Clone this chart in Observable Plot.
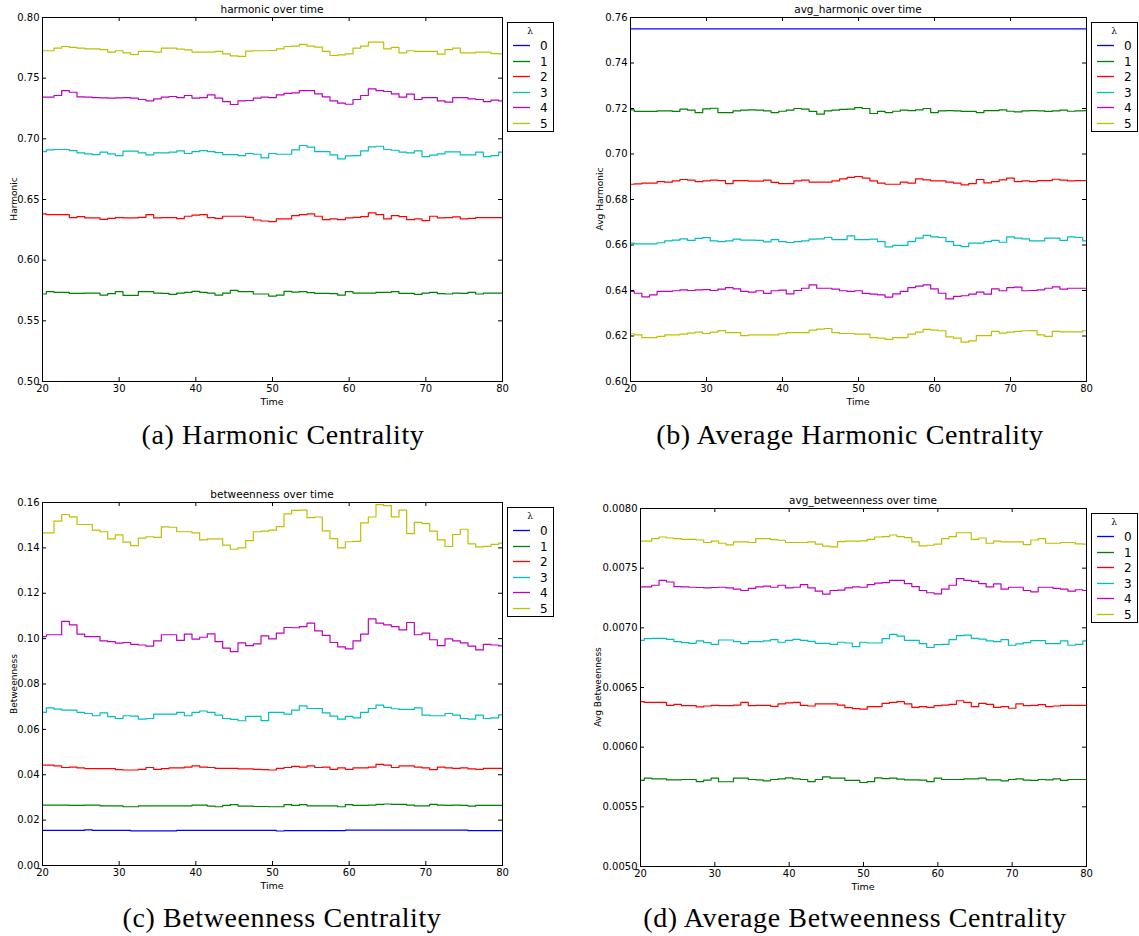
<!DOCTYPE html>
<html>
<head>
<meta charset="utf-8">
<script src="https://cdn.jsdelivr.net/npm/d3@7"></script>
<script src="https://cdn.jsdelivr.net/npm/@observablehq/plot@0.6"></script>
<style>
  html, body { margin: 0; padding: 0; background: #fff; }
  #fig { position: relative; width: 1139px; height: 936px; overflow: hidden; font-family: "DejaVu Sans", sans-serif; color: #000; }
  .abs { position: absolute; white-space: nowrap; }
  .c { transform: translate(-50%, -50%); }
  .ttl { font-size: 10.5px; }
  .xl { font-size: 9.5px; }
  .yl { font-size: 9px; transform: translate(-50%, -50%) rotate(-90deg); }
  .cap { font-family: "Liberation Serif", serif; font-size: 28px; letter-spacing: 0.6px; }
  .leg { position: absolute; }
</style>
</head>
<body>
<div id="fig"></div>
<script>
// ---------- data ----------
const times = d3.range(20, 81);           // time steps 20..80
const lambdas = ["0", "1", "2", "3", "4", "5"];
const colors = ["#0000ff", "#008000", "#ff0000", "#00bfbf", "#bf00bf", "#bfbf00"];
const xTicks = [20, 30, 40, 50, 60, 70, 80];

// (a) harmonic
const harm0 = [0.5,0.5,0.5,0.5,0.5,0.5,0.5,0.5,0.5,0.5,0.5,0.5,0.5,0.5,0.5,0.5,0.5,0.5,0.5,0.5,0.5,0.5,0.5,0.5,0.5,0.5,0.5,0.5,0.5,0.5,0.5,0.5,0.5,0.5,0.5,0.5,0.5,0.5,0.5,0.5,0.5,0.5,0.5,0.5,0.5,0.5,0.5,0.5,0.5,0.5,0.5,0.5,0.5,0.5,0.5,0.5,0.5,0.5,0.5,0.5,0.5];
const harm1 = [0.5721,0.5740,0.5735,0.5735,0.5726,0.5726,0.5729,0.5729,0.5712,0.5724,
0.5740,0.5710,0.5710,0.5740,0.5740,0.5729,0.5726,0.5718,0.5729,0.5735,
0.5743,0.5735,0.5729,0.5712,0.5729,0.5751,0.5740,0.5740,0.5721,0.5721,
0.5704,0.5712,0.5743,0.5737,0.5740,0.5732,0.5726,0.5726,0.5724,0.5712,
0.5740,0.5729,0.5729,0.5729,0.5735,0.5735,0.5740,0.5726,0.5726,0.5718,
0.5729,0.5735,0.5724,0.5721,0.5729,0.5726,0.5735,0.5721,0.5729,0.5729,
0.5729];
const harm2 = [0.6381,0.6375,0.6375,0.6375,0.6351,0.6359,0.6348,0.6348,0.6337,0.6345,
0.6351,0.6348,0.6348,0.6353,0.6375,0.6348,0.6351,0.6351,0.6342,0.6362,
0.6372,0.6375,0.6351,0.6345,0.6362,0.6362,0.6362,0.6353,0.6331,0.6323,
0.6318,0.6340,0.6340,0.6367,0.6375,0.6381,0.6362,0.6334,0.6340,0.6334,
0.6348,0.6353,0.6359,0.6389,0.6375,0.6340,0.6367,0.6359,0.6334,0.6340,
0.6326,0.6362,0.6348,0.6351,0.6356,0.6340,0.6345,0.6351,0.6351,0.6351,
0.6351];
const harm3 = [0.6895,0.6909,0.6912,0.6912,0.6903,0.6884,0.6876,0.6870,0.6890,0.6876,
0.6862,0.6898,0.6898,0.6884,0.6867,0.6884,0.6884,0.6890,0.6901,0.6879,
0.6895,0.6903,0.6895,0.6887,0.6870,0.6870,0.6862,0.6879,0.6873,0.6843,
0.6879,0.6873,0.6873,0.6909,0.6945,0.6931,0.6895,0.6895,0.6867,0.6835,
0.6859,0.6862,0.6901,0.6934,0.6939,0.6912,0.6906,0.6890,0.6884,0.6901,
0.6854,0.6865,0.6876,0.6892,0.6892,0.6867,0.6867,0.6890,0.6854,0.6862,
0.6890];
const harm4 = [0.7343,0.7343,0.7357,0.7398,0.7384,0.7346,0.7343,0.7340,0.7338,0.7335,
0.7338,0.7340,0.7335,0.7324,0.7313,0.7330,0.7343,0.7349,0.7340,0.7357,
0.7335,0.7340,0.7362,0.7335,0.7307,0.7283,0.7313,0.7316,0.7335,0.7343,
0.7340,0.7362,0.7374,0.7379,0.7398,0.7398,0.7371,0.7346,0.7313,0.7294,
0.7285,0.7324,0.7357,0.7412,0.7398,0.7390,0.7371,0.7343,0.7368,0.7324,
0.7340,0.7340,0.7313,0.7302,0.7340,0.7340,0.7330,0.7324,0.7307,0.7319,
0.7313];
const harm5 = [0.7726,0.7726,0.7747,0.7761,0.7753,0.7747,0.7742,0.7742,0.7736,0.7715,
0.7726,0.7709,0.7695,0.7720,0.7720,0.7715,0.7747,0.7747,0.7739,0.7734,
0.7715,0.7715,0.7715,0.7720,0.7701,0.7684,0.7679,0.7723,0.7726,0.7726,
0.7728,0.7742,0.7761,0.7764,0.7778,0.7764,0.7756,0.7720,0.7687,0.7692,
0.7701,0.7747,0.7764,0.7797,0.7797,0.7742,0.7753,0.7709,0.7726,0.7720,
0.7720,0.7720,0.7698,0.7736,0.7747,0.7709,0.7709,0.7715,0.7715,0.7703,
0.7701];
const harmTicks = [0.50, 0.55, 0.60, 0.65, 0.70, 0.75, 0.80];

// (b) avg_harmonic
const avgH0 = [0.755,0.755,0.755,0.755,0.755,0.755,0.755,0.755,0.755,0.755,0.755,0.755,0.755,0.755,0.755,0.755,0.755,0.755,0.755,0.755,0.755,0.755,0.755,0.755,0.755,0.755,0.755,0.755,0.755,0.755,0.755,0.755,0.755,0.755,0.755,0.755,0.755,0.755,0.755,0.755,0.755,0.755,0.755,0.755,0.755,0.755,0.755,0.755,0.755,0.755,0.755,0.755,0.755,0.755,0.755,0.755,0.755,0.755,0.755,0.755,0.755];
const avgH1 = [0.7194,0.7187,0.7187,0.7187,0.7190,0.7190,0.7187,0.7197,0.7193,0.7182,
0.7198,0.7201,0.7182,0.7182,0.7190,0.7193,0.7194,0.7193,0.7190,0.7182,
0.7188,0.7193,0.7200,0.7197,0.7187,0.7175,0.7190,0.7193,0.7196,0.7197,
0.7204,0.7200,0.7178,0.7187,0.7182,0.7188,0.7193,0.7191,0.7194,0.7200,
0.7182,0.7190,0.7191,0.7190,0.7187,0.7187,0.7182,0.7191,0.7191,0.7194,
0.7188,0.7185,0.7190,0.7191,0.7190,0.7187,0.7190,0.7193,0.7188,0.7190,
0.7191];
const avgH2 = [0.6867,0.6869,0.6872,0.6872,0.6879,0.6876,0.6882,0.6888,0.6885,0.6879,
0.6882,0.6885,0.6883,0.6870,0.6883,0.6883,0.6881,0.6881,0.6885,0.6875,
0.6870,0.6870,0.6882,0.6885,0.6876,0.6876,0.6876,0.6882,0.6891,0.6897,
0.6901,0.6894,0.6882,0.6872,0.6867,0.6867,0.6876,0.6872,0.6891,0.6886,
0.6882,0.6882,0.6876,0.6872,0.6864,0.6870,0.6888,0.6873,0.6879,0.6886,
0.6894,0.6879,0.6882,0.6879,0.6883,0.6883,0.6889,0.6885,0.6882,0.6883,
0.6883];
const avgH3 = [0.6608,0.6605,0.6605,0.6605,0.6610,0.6618,0.6621,0.6627,0.6620,0.6629,
0.6632,0.6618,0.6615,0.6618,0.6626,0.6621,0.6621,0.6620,0.6614,0.6624,
0.6615,0.6611,0.6615,0.6618,0.6626,0.6627,0.6633,0.6624,0.6624,0.6640,
0.6624,0.6624,0.6626,0.6615,0.6592,0.6598,0.6598,0.6615,0.6630,0.6642,
0.6636,0.6633,0.6615,0.6598,0.6593,0.6608,0.6608,0.6615,0.6620,0.6612,
0.6636,0.6630,0.6627,0.6618,0.6618,0.6630,0.6630,0.6620,0.6636,0.6633,
0.6618];
const avgH4 = [0.6396,0.6388,0.6372,0.6381,0.6396,0.6396,0.6399,0.6403,0.6400,0.6403,
0.6404,0.6400,0.6406,0.6413,0.6407,0.6396,0.6393,0.6399,0.6387,0.6399,
0.6402,0.6385,0.6400,0.6410,0.6425,0.6410,0.6410,0.6406,0.6399,0.6396,
0.6399,0.6387,0.6384,0.6381,0.6371,0.6385,0.6396,0.6413,0.6419,0.6425,
0.6407,0.6388,0.6363,0.6374,0.6377,0.6384,0.6393,0.6384,0.6407,0.6399,
0.6413,0.6415,0.6399,0.6400,0.6403,0.6410,0.6416,0.6406,0.6410,0.6410,
0.6410];
const avgH5 = [0.6210,0.6205,0.6193,0.6193,0.6198,0.6205,0.6205,0.6208,0.6213,0.6217,
0.6211,0.6217,0.6224,0.6215,0.6215,0.6202,0.6205,0.6205,0.6205,0.6205,
0.6210,0.6215,0.6215,0.6215,0.6226,0.6230,0.6233,0.6215,0.6211,0.6211,
0.6208,0.6208,0.6193,0.6191,0.6185,0.6193,0.6193,0.6208,0.6217,0.6229,
0.6226,0.6223,0.6196,0.6191,0.6173,0.6179,0.6202,0.6202,0.6220,0.6213,
0.6217,0.6220,0.6223,0.6224,0.6205,0.6198,0.6220,0.6218,0.6218,0.6218,
0.6223];
const avgHTicks = [0.60, 0.62, 0.64, 0.66, 0.68, 0.70, 0.72, 0.74, 0.76];

// (c) betweenness
const betw0 = [0.0155,0.0155,0.0155,0.0155,0.0155,0.0155,0.0157,0.0155,0.0155,0.0155,
0.0155,0.0155,0.0153,0.0153,0.0153,0.0153,0.0153,0.0153,0.0155,0.0155,
0.0155,0.0155,0.0155,0.0155,0.0155,0.0155,0.0155,0.0155,0.0155,0.0155,
0.0155,0.0152,0.0154,0.0154,0.0154,0.0154,0.0154,0.0154,0.0154,0.0154,
0.0156,0.0156,0.0156,0.0156,0.0156,0.0156,0.0156,0.0156,0.0156,0.0156,
0.0156,0.0156,0.0156,0.0156,0.0156,0.0156,0.0154,0.0154,0.0154,0.0154,
0.0154];
const betw1 = [0.0266,0.0266,0.0266,0.0266,0.0265,0.0265,0.0266,0.0266,0.0263,0.0263,
0.0263,0.0259,0.0259,0.0263,0.0263,0.0263,0.0263,0.0263,0.0263,0.0263,
0.0266,0.0266,0.0262,0.0259,0.0265,0.0268,0.0262,0.0262,0.0260,0.0260,
0.0259,0.0259,0.0268,0.0265,0.0268,0.0263,0.0263,0.0263,0.0263,0.0259,
0.0268,0.0265,0.0265,0.0266,0.0269,0.0271,0.0269,0.0269,0.0266,0.0263,
0.0263,0.0269,0.0266,0.0265,0.0266,0.0265,0.0262,0.0265,0.0265,0.0265,
0.0265];
const betw2 = [0.0442,0.0442,0.0439,0.0432,0.0434,0.0430,0.0427,0.0427,0.0427,0.0427,
0.0423,0.0421,0.0421,0.0424,0.0432,0.0424,0.0427,0.0430,0.0430,0.0434,
0.0439,0.0434,0.0432,0.0428,0.0428,0.0428,0.0426,0.0426,0.0424,0.0423,
0.0421,0.0428,0.0432,0.0437,0.0434,0.0439,0.0432,0.0434,0.0424,0.0430,
0.0424,0.0430,0.0430,0.0434,0.0446,0.0442,0.0432,0.0439,0.0439,0.0434,
0.0430,0.0423,0.0434,0.0430,0.0428,0.0430,0.0426,0.0424,0.0428,0.0428,
0.0428];
const betw3 = [0.0675,0.0695,0.0689,0.0685,0.0685,0.0675,0.0670,0.0660,0.0673,0.0656,
0.0648,0.0660,0.0658,0.0645,0.0648,0.0667,0.0667,0.0667,0.0675,0.0660,
0.0675,0.0681,0.0675,0.0663,0.0648,0.0644,0.0638,0.0657,0.0657,0.0639,
0.0675,0.0675,0.0667,0.0685,0.0704,0.0692,0.0692,0.0673,0.0658,0.0645,
0.0657,0.0651,0.0675,0.0692,0.0707,0.0697,0.0691,0.0688,0.0688,0.0695,
0.0663,0.0660,0.0660,0.0670,0.0663,0.0648,0.0645,0.0663,0.0648,0.0651,
0.0664];
const betw4 = [0.1009,0.1017,0.1017,0.1076,0.1061,0.1020,0.1009,0.1009,0.0990,0.0987,
0.0980,0.0983,0.0975,0.0972,0.0967,0.0990,0.1017,0.1017,0.0992,0.1020,
0.0998,0.1006,0.1021,0.0987,0.0958,0.0943,0.0981,0.0969,0.0977,0.1012,
0.0999,0.1024,0.1049,0.1048,0.1053,0.1068,0.1034,0.1014,0.0983,0.0964,
0.0955,0.0990,0.1020,0.1087,0.1068,0.1061,0.1053,0.1039,0.1071,0.1017,
0.1024,0.0995,0.0969,0.0999,0.0990,0.0981,0.0967,0.0950,0.0975,0.0972,
0.0968];
const betw5 = [0.1466,0.1466,0.1518,0.1547,0.1537,0.1503,0.1503,0.1478,0.1471,0.1440,
0.1457,0.1425,0.1410,0.1443,0.1449,0.1446,0.1493,0.1491,0.1471,0.1471,
0.1466,0.1435,0.1440,0.1440,0.1412,0.1394,0.1400,0.1432,0.1471,0.1474,
0.1478,0.1494,0.1550,0.1565,0.1566,0.1533,0.1536,0.1475,0.1441,0.1400,
0.1427,0.1429,0.1510,0.1536,0.1591,0.1586,0.1537,0.1566,0.1463,0.1512,
0.1507,0.1474,0.1435,0.1406,0.1459,0.1482,0.1418,0.1404,0.1407,0.1415,
0.1421];
const betwTicks = [0.00, 0.02, 0.04, 0.06, 0.08, 0.10, 0.12, 0.14, 0.16];

// (d) avg_betweenness
const avgB0 = [0.005,0.005,0.005,0.005,0.005,0.005,0.005,0.005,0.005,0.005,0.005,0.005,0.005,0.005,0.005,0.005,0.005,0.005,0.005,0.005,0.005,0.005,0.005,0.005,0.005,0.005,0.005,0.005,0.005,0.005,0.005,0.005,0.005,0.005,0.005,0.005,0.005,0.005,0.005,0.005,0.005,0.005,0.005,0.005,0.005,0.005,0.005,0.005,0.005,0.005,0.005,0.005,0.005,0.005,0.005,0.005,0.005,0.005,0.005,0.005,0.005];
const avgB1 = [0.005721,0.005740,0.005735,0.005735,0.005726,0.005726,0.005729,0.005729,0.005712,0.005724,
0.005740,0.005710,0.005710,0.005740,0.005740,0.005729,0.005726,0.005718,0.005729,0.005735,
0.005743,0.005735,0.005729,0.005712,0.005729,0.005751,0.005740,0.005740,0.005721,0.005721,
0.005704,0.005712,0.005743,0.005737,0.005740,0.005732,0.005726,0.005726,0.005724,0.005712,
0.005740,0.005729,0.005729,0.005729,0.005735,0.005735,0.005740,0.005726,0.005726,0.005718,
0.005729,0.005735,0.005724,0.005721,0.005729,0.005726,0.005735,0.005721,0.005729,0.005729,
0.005729];
const avgB2 = [0.006381,0.006375,0.006375,0.006375,0.006351,0.006359,0.006348,0.006348,0.006337,0.006345,
0.006351,0.006348,0.006348,0.006353,0.006375,0.006348,0.006351,0.006351,0.006342,0.006362,
0.006372,0.006375,0.006351,0.006345,0.006362,0.006362,0.006362,0.006353,0.006331,0.006323,
0.006318,0.006340,0.006340,0.006367,0.006375,0.006381,0.006362,0.006334,0.006340,0.006334,
0.006348,0.006353,0.006359,0.006389,0.006375,0.006340,0.006367,0.006359,0.006334,0.006340,
0.006326,0.006362,0.006348,0.006351,0.006356,0.006340,0.006345,0.006351,0.006351,0.006351,
0.006351];
const avgB3 = [0.006895,0.006909,0.006912,0.006912,0.006903,0.006884,0.006876,0.006870,0.006890,0.006876,
0.006862,0.006898,0.006898,0.006884,0.006867,0.006884,0.006884,0.006890,0.006901,0.006879,
0.006895,0.006903,0.006895,0.006887,0.006870,0.006870,0.006862,0.006879,0.006873,0.006843,
0.006879,0.006873,0.006873,0.006909,0.006945,0.006931,0.006895,0.006895,0.006867,0.006835,
0.006859,0.006862,0.006901,0.006934,0.006939,0.006912,0.006906,0.006890,0.006884,0.006901,
0.006854,0.006865,0.006876,0.006892,0.006892,0.006867,0.006867,0.006890,0.006854,0.006862,
0.006890];
const avgB4 = [0.007343,0.007343,0.007357,0.007398,0.007384,0.007346,0.007343,0.007340,0.007338,0.007335,
0.007338,0.007340,0.007335,0.007324,0.007313,0.007330,0.007343,0.007349,0.007340,0.007357,
0.007335,0.007340,0.007362,0.007335,0.007307,0.007283,0.007313,0.007316,0.007335,0.007343,
0.007340,0.007362,0.007374,0.007379,0.007398,0.007398,0.007371,0.007346,0.007313,0.007294,
0.007285,0.007324,0.007357,0.007412,0.007398,0.007390,0.007371,0.007343,0.007368,0.007324,
0.007340,0.007340,0.007313,0.007302,0.007340,0.007340,0.007330,0.007324,0.007307,0.007319,
0.007313];
const avgB5 = [0.007726,0.007726,0.007747,0.007761,0.007753,0.007747,0.007742,0.007742,0.007736,0.007715,
0.007726,0.007709,0.007695,0.007720,0.007720,0.007715,0.007747,0.007747,0.007739,0.007734,
0.007715,0.007715,0.007715,0.007720,0.007701,0.007684,0.007679,0.007723,0.007726,0.007726,
0.007728,0.007742,0.007761,0.007764,0.007778,0.007764,0.007756,0.007720,0.007687,0.007692,
0.007701,0.007747,0.007764,0.007797,0.007797,0.007742,0.007753,0.007709,0.007726,0.007720,
0.007720,0.007720,0.007698,0.007736,0.007747,0.007709,0.007709,0.007715,0.007715,0.007703,
0.007701];
const avgBTicks = [0.0050, 0.0055, 0.0060, 0.0065, 0.0070, 0.0075, 0.0080];

// ---------- drawing ----------
const fig = document.getElementById("fig");
const SVGNS = "http://www.w3.org/2000/svg";

function addDiv(cls, text, x, y) {
  const d = document.createElement("div");
  d.className = "abs " + cls;
  d.textContent = text;
  d.style.left = x + "px";
  d.style.top = y + "px";
  fig.appendChild(d);
  return d;
}

function svgEl(tag, attrs, text) {
  const e = document.createElementNS(SVGNS, tag);
  for (const k in attrs) e.setAttribute(k, attrs[k]);
  if (text != null) e.textContent = text;
  return e;
}

function legend(x, y) {
  const w = 47, h = 110;
  const s = svgEl("svg", {width: w, height: h, class: "leg"});
  s.style.left = x + "px";
  s.style.top = y + "px";
  s.appendChild(svgEl("rect", {x: 0.5, y: 0.5, width: w - 1, height: h - 1, fill: "#fff", stroke: "#000", "stroke-width": 1}));
  s.appendChild(svgEl("text", {x: 23, y: 12, "text-anchor": "middle", "font-family": "DejaVu Serif", "font-size": 9}, "λ"));
  lambdas.forEach((l, i) => {
    const yy = Math.round(23 + i * 15.6) + 0.5;
    s.appendChild(svgEl("line", {x1: 6, x2: 23, y1: yy, y2: yy, stroke: colors[i], "stroke-width": 1.3}));
    s.appendChild(svgEl("text", {x: 33, y: yy + 4.5, "font-family": "DejaVu Sans", "font-size": 12}, l));
  });
  fig.appendChild(s);
}

function panel(p) {
  const data = [];
  p.series.forEach((vals, i) => vals.forEach((v, j) => data.push({t: times[j], v, s: lambdas[i]})));
  const plotW = p.width - p.ml - p.mr, plotH = p.height - p.mt - p.mb;
  const tickLen = 4;
  const chart = Plot.plot({
    width: p.width, height: p.height,
    marginTop: p.mt, marginRight: p.mr, marginBottom: p.mb, marginLeft: p.ml,
    style: {fontFamily: "DejaVu Sans", fontSize: "10px", background: "transparent", overflow: "visible"},
    x: {domain: [20, 80]},
    y: {domain: p.yDomain},
    color: {type: "ordinal", domain: lambdas, range: colors},
    marks: [
      Plot.line(data, {x: "t", y: "v", z: "s", stroke: "s", curve: "step", strokeWidth: 1.2}),
      Plot.frame({stroke: "#000", strokeWidth: 1}),
      Plot.tickX(xTicks, {x: d => d, stroke: "#000", insetTop: plotH - tickLen}),
      Plot.tickX(xTicks, {x: d => d, stroke: "#000", insetBottom: plotH - tickLen}),
      Plot.tickY(p.yTicks, {y: d => d, stroke: "#000", insetRight: plotW - tickLen}),
      Plot.tickY(p.yTicks, {y: d => d, stroke: "#000", insetLeft: plotW - tickLen}),
      Plot.axisX({ticks: xTicks, tickSize: 0, tickPadding: 3, tickFormat: d => String(d), label: null}),
      Plot.axisY({ticks: p.yTicks, tickSize: 0, tickPadding: 3, tickFormat: p.fmt, label: null})
    ]
  });
  chart.style.position = "absolute";
  chart.style.left = p.left + "px";
  chart.style.top = p.top + "px";
  fig.appendChild(chart);

  const fx0 = p.left + p.ml, fx1 = p.left + p.width - p.mr;
  const fy0 = p.top + p.mt, fy1 = p.top + p.height - p.mb;
  const cx = (fx0 + fx1) / 2, cy = (fy0 + fy1) / 2;
  addDiv("ttl c", p.title, cx, fy0 - 8);
  addDiv("xl c", "Time", cx, fy1 + 20);
  addDiv("yl", p.ylabel, p.ylx, cy);
  legend(fx1 + 5, fy0 + 5);
  addDiv("cap c", p.caption, p.capX, p.capY);
}

panel({
  series: [harm0, harm1, harm2, harm3, harm4, harm5], yDomain: [0.5, 0.8], yTicks: harmTicks, fmt: d3.format(".2f"),
  left: 0, top: 0, width: 560, height: 400, mt: 17, mr: 58, mb: 19, ml: 42,
  title: "harmonic over time", ylabel: "Harmonic", ylx: 14,
  caption: "(a) Harmonic Centrality", capX: 283, capY: 435
});
panel({
  series: [avgH0, avgH1, avgH2, avgH3, avgH4, avgH5], yDomain: [0.6, 0.76], yTicks: avgHTicks, fmt: d3.format(".2f"),
  left: 580, top: 0, width: 560, height: 400, mt: 17, mr: 54, mb: 19, ml: 50,
  title: "avg_harmonic over time", ylabel: "Avg Harmonic", ylx: 600,
  caption: "(b) Average Harmonic Centrality", capX: 850, capY: 435
});
panel({
  series: [betw0, betw1, betw2, betw3, betw4, betw5], yDomain: [0, 0.16], yTicks: betwTicks, fmt: d3.format(".2f"),
  left: 0, top: 490, width: 560, height: 400, mt: 12, mr: 58, mb: 25, ml: 42,
  title: "betweenness over time", ylabel: "Betweenness", ylx: 14,
  caption: "(c) Betweenness Centrality", capX: 282, capY: 918
});
panel({
  series: [avgB0, avgB1, avgB2, avgB3, avgB4, avgB5], yDomain: [0.005, 0.008], yTicks: avgBTicks, fmt: d3.format(".4f"),
  left: 580, top: 490, width: 560, height: 400, mt: 18, mr: 54, mb: 24, ml: 60,
  title: "avg_betweenness over time", ylabel: "Avg Betweenness", ylx: 598,
  caption: "(d) Average Betweenness Centrality", capX: 855, capY: 918
});
</script>
</body>
</html>
